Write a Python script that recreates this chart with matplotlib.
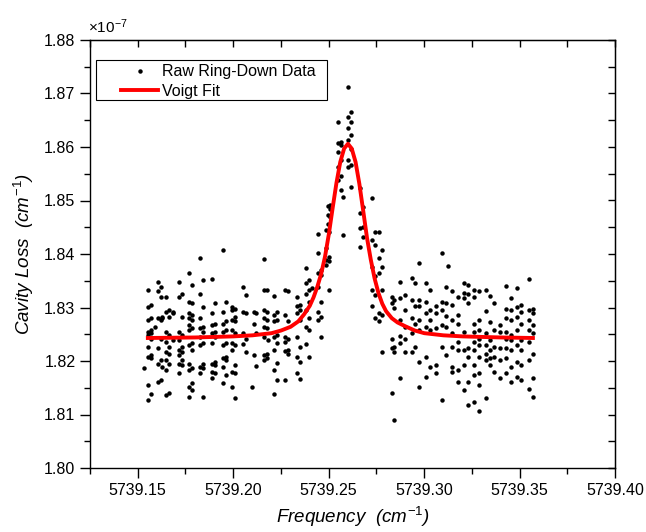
import matplotlib
matplotlib.use("Agg")
import matplotlib.pyplot as plt
from matplotlib.patches import Rectangle
from matplotlib.ticker import MultipleLocator, FormatStrFormatter

plt.rcParams["font.family"] = ["Liberation Sans", "DejaVu Sans"]
plt.rcParams["mathtext.fontset"] = "custom"
plt.rcParams["mathtext.rm"] = "Liberation Sans"
plt.rcParams["mathtext.it"] = "Liberation Sans:italic"

# ring-down points, grouped by frequency column (loss in units of 1e-7 cm^-1)
col_freq = [
    5739.1533, 5739.1553, 5739.1567, 5739.1590, 5739.1608, 5739.1620, 5739.1628,
    5739.1650, 5739.1666, 5739.1687, 5739.1715, 5739.1730, 5739.1768, 5739.1786,
    5739.1826, 5739.1840, 5739.1888, 5739.1903, 5739.1945, 5739.1960, 5739.1996,
    5739.2012,
    5739.2053, 5739.2068, 5739.2097, 5739.2108, 5739.2122, 5739.2160, 5739.2175,
    5739.2184, 5739.2212, 5739.2227, 5739.2272, 5739.2288, 5739.2333, 5739.2348,
    5739.2382, 5739.2398, 5739.2411, 5739.2442, 5739.2458, 5739.2446, 5739.2488,
    5739.2502, 5739.2496, 5739.2505,
    5739.2551, 5739.2566, 5739.2577, 5739.2603, 5739.2618, 5739.2666, 5739.2681,
    5739.2725, 5739.2741, 5739.2762, 5739.2782, 5739.2832, 5739.2841, 5739.2876,
    5739.2898, 5739.2935, 5739.2952, 5739.2972, 5739.3010, 5739.3033, 5739.3064,
    5739.3092, 5739.3116, 5739.3127, 5739.3147, 5739.3176, 5739.3207, 5739.3229,
    5739.3260, 5739.3290, 5739.3322, 5739.3343, 5739.3365, 5739.3395, 5739.3427,
    5739.3456, 5739.3488, 5739.3509, 5739.3548, 5739.3570,
]
col_loss = [
    [1.8186],
    [1.8333, 1.8301, 1.8277, 1.8255, 1.8249, 1.8227, 1.8208, 1.8155, 1.8128],
    [1.8305, 1.8280, 1.8258, 1.8252, 1.8242, 1.8211, 1.8205, 1.8138],
    [1.8264],
    [1.8348, 1.8330, 1.8280, 1.8224, 1.8195, 1.8161],
    [1.8339, 1.8320, 1.8277, 1.8242, 1.8202, 1.8164],
    [1.8283, 1.8280, 1.8189],
    [1.8320, 1.8292, 1.8255, 1.8236, 1.8217, 1.8202, 1.8183, 1.8136],
    [1.8295, 1.8283, 1.8249, 1.8227, 1.8214, 1.8195, 1.8140],
    [1.8292, 1.8289, 1.8239],
    [1.8348, 1.8320, 1.8255, 1.8239, 1.8220, 1.8211, 1.8195, 1.8177],
    [1.8326, 1.8283, 1.8249, 1.8227, 1.8217, 1.8202, 1.8192],
    [1.8364, 1.8311, 1.8289, 1.8280, 1.8267, 1.8258, 1.8230, 1.8195, 1.8183, 1.8152, 1.8133],
    [1.8342, 1.8308, 1.8286, 1.8277, 1.8261, 1.8233, 1.8220, 1.8186, 1.8158, 1.8146],
    [1.8392, 1.8326, 1.8280, 1.8261, 1.8245, 1.8230, 1.8189, 1.8177],
    [1.8351, 1.8301, 1.8264, 1.8255, 1.8233, 1.8195, 1.8186, 1.8133],
    [1.8354, 1.8289, 1.8267, 1.8252, 1.8233, 1.8195, 1.8180, 1.8168],
    [1.8308, 1.8270, 1.8255, 1.8245, 1.8199, 1.8192, 1.8177],
    [1.8407, 1.8292, 1.8270, 1.8255, 1.8230, 1.8205, 1.8189, 1.8158],
    [1.8311, 1.8274, 1.8258, 1.8233, 1.8208, 1.8202, 1.8174],
    [1.8301, 1.8295, 1.8277, 1.8258, 1.8233, 1.8220, 1.8180, 1.8152],
    [1.8298, 1.8283, 1.8274, 1.8252, 1.8230, 1.8192, 1.8177, 1.8130],
    [1.8339, 1.8292, 1.8252, 1.8232],
    [1.8323, 1.8290, 1.8242, 1.8217],
    [1.8152],
    [1.8292, 1.8270, 1.8211],
    [1.8289, 1.8252, 1.8191],
    [1.8390, 1.8333, 1.8295, 1.8280, 1.8264, 1.8245, 1.8211, 1.8202],
    [1.8332, 1.8292, 1.8277, 1.8261, 1.8214, 1.8205],
    [1.8239],
    [1.8321, 1.8286, 1.8274, 1.8245, 1.8221, 1.8183, 1.8138],
    [1.8292, 1.8277, 1.8249, 1.8233, 1.8196, 1.8165],
    [1.8333, 1.8286, 1.8245, 1.8236, 1.8218, 1.8165],
    [1.8330, 1.8274, 1.8242, 1.8221, 1.8214],
    [1.8320, 1.8302, 1.8289, 1.8245, 1.8208, 1.8177],
    [1.8305, 1.8295, 1.8277, 1.8227, 1.8199, 1.8166],
    [1.8373, 1.8345, 1.8326, 1.8295, 1.8264, 1.8232],
    [1.8351, 1.8333, 1.8311, 1.8280, 1.8258, 1.8208],
    [1.8336],
    [1.8401, 1.8364, 1.8339, 1.8292, 1.8277],
    [1.8370, 1.8361, 1.8311, 1.8283, 1.8245],
    [1.8437],
    [1.8411, 1.8389, 1.8379, 1.8445],
    [1.8395, 1.8386, 1.8333, 1.8442],
    [1.8489, 1.8473, 1.8457],
    [1.8492, 1.8485, 1.8470],
    [1.8647, 1.8607, 1.8591, 1.8563, 1.8538],
    [1.8610, 1.8604, 1.8576, 1.8545, 1.8520],
    [1.8507, 1.8435],
    [1.8712, 1.8657, 1.8635, 1.8613, 1.8576, 1.8563],
    [1.8666, 1.8647, 1.8622, 1.8597, 1.8566, 1.8526],
    [1.8523, 1.8476, 1.8448, 1.8414],
    [1.8488, 1.8451, 1.8432],
    [1.8504, 1.8426, 1.8376, 1.8333, 1.8302],
    [1.8442, 1.8417, 1.8358, 1.8323, 1.8280],
    [1.8442, 1.8392, 1.8364, 1.8289, 1.8274],
    [1.8407, 1.8376, 1.8333, 1.8286, 1.8217],
    [1.8320, 1.8308, 1.8242, 1.8224, 1.8140],
    [1.8314, 1.8299, 1.8227, 1.8217, 1.8090],
    [1.8348, 1.8317, 1.8277, 1.8246, 1.8233, 1.8168],
    [1.8323, 1.8295, 1.8264, 1.8242, 1.8217],
    [1.8355, 1.8314, 1.8280, 1.8252, 1.8217],
    [1.8345, 1.8302, 1.8270, 1.8227],
    [1.8383, 1.8314, 1.8302, 1.8277, 1.8258, 1.8199, 1.8152],
    [1.8345, 1.8311, 1.8289, 1.8264, 1.8208, 1.8171],
    [1.8333, 1.8295, 1.8277, 1.8258, 1.8189],
    [1.8302, 1.8289, 1.8261, 1.8193, 1.8177],
    [1.8402, 1.8311, 1.8295, 1.8267, 1.8227, 1.8128],
    [1.8339, 1.8309, 1.8284, 1.8264, 1.8211],
    [1.8378],
    [1.8330, 1.8305, 1.8277, 1.8252, 1.8227, 1.8189, 1.8180],
    [1.8320, 1.8286, 1.8270, 1.8236, 1.8220, 1.8183, 1.8161],
    [1.8346, 1.8328, 1.8317, 1.8255, 1.8220, 1.8192, 1.8146],
    [1.8342, 1.8326, 1.8308, 1.8224, 1.8208, 1.8161, 1.8118],
    [1.8333, 1.8320, 1.8270, 1.8255, 1.8236, 1.8220, 1.8192, 1.8174, 1.8124],
    [1.8330, 1.8277, 1.8258, 1.8242, 1.8230, 1.8208, 1.8177, 1.8155, 1.8106],
    [1.8333, 1.8294, 1.8252, 1.8230, 1.8214, 1.8202, 1.8130],
    [1.8321, 1.8272, 1.8239, 1.8220, 1.8205, 1.8192],
    [1.8309, 1.8258, 1.8227, 1.8208, 1.8180],
    [1.8267, 1.8255, 1.8224, 1.8202, 1.8168],
    [1.8340, 1.8298, 1.8280, 1.8255, 1.8242, 1.8224, 1.8205, 1.8177],
    [1.8317, 1.8295, 1.8277, 1.8249, 1.8239, 1.8220, 1.8189, 1.8161],
    [1.8336, 1.8301, 1.8283, 1.8258, 1.8230, 1.8199, 1.8171],
    [1.8305, 1.8292, 1.8270, 1.8239, 1.8220, 1.8192, 1.8164],
    [1.8354, 1.8295, 1.8277, 1.8258, 1.8236, 1.8202, 1.8147],
    [1.8298, 1.8289, 1.8267, 1.8252, 1.8214, 1.8168, 1.8132],
]

# Voigt fit curve
fit_freq = [
    5739.1553, 5739.1801, 5739.2001, 5739.2101, 5739.2201, 5739.2251, 5739.2301,
    5739.2341, 5739.2371, 5739.2401, 5739.2421, 5739.2441, 5739.2461, 5739.2481,
    5739.2501, 5739.2521, 5739.2541, 5739.2561, 5739.2581, 5739.2601, 5739.2621,
    5739.2641, 5739.2661, 5739.2681, 5739.2701, 5739.2721, 5739.2741, 5739.2761,
    5739.2781, 5739.2801, 5739.2831, 5739.2861, 5739.2901, 5739.2951, 5739.3001,
    5739.3101, 5739.3201, 5739.3401, 5739.3570,
]
fit_loss = [
    1.8243, 1.8244, 1.8246, 1.8248, 1.8252, 1.8257, 1.8264,
    1.8274, 1.8287, 1.8303, 1.8319, 1.8339, 1.8363, 1.8395,
    1.8437, 1.8486, 1.8533, 1.8572, 1.8597, 1.8606, 1.8597,
    1.8572, 1.8531, 1.8481, 1.8430, 1.8389, 1.8354, 1.8327,
    1.8307, 1.8293, 1.8280, 1.8272, 1.8265, 1.8257, 1.8252,
    1.8248, 1.8246, 1.8244, 1.8243,
]

freq = []
loss = []
for f, ys in zip(col_freq, col_loss):
    freq += [f] * len(ys)
    loss += ys

W, H = 646, 532
fig = plt.figure(figsize=(W / 100, H / 100), dpi=100)
ax = fig.add_axes([90 / W, 64 / H, 525 / W, 428 / H])

ax.plot(freq, loss, "o", ms=3.2, mew=0, color="black", ls="none",
        label="Raw Ring-Down Data")
ax.plot(fit_freq, fit_loss, color="red", lw=2.8, label="Voigt Fit")

ax.set_xlim(5739.125, 5739.40)
ax.set_ylim(1.80, 1.88)
ax.xaxis.set_major_locator(MultipleLocator(0.05))
ax.xaxis.set_minor_locator(MultipleLocator(0.025))
ax.yaxis.set_major_locator(MultipleLocator(0.01))
ax.yaxis.set_minor_locator(MultipleLocator(0.005))
ax.xaxis.set_major_formatter(FormatStrFormatter("%.2f"))
ax.yaxis.set_major_formatter(FormatStrFormatter("%.2f"))
ax.tick_params(which="major", direction="out", length=7, width=1, labelsize=11.5)
ax.tick_params(which="minor", direction="out", length=4, width=1)
for s in ax.spines.values():
    s.set_linewidth(1)

top = ax.secondary_xaxis("top")
top.xaxis.set_major_locator(MultipleLocator(0.05))
top.xaxis.set_minor_locator(MultipleLocator(0.025))
top.tick_params(which="both", direction="in", length=5, width=1, labeltop=False)
right = ax.secondary_yaxis("right")
right.yaxis.set_major_locator(MultipleLocator(0.01))
right.yaxis.set_minor_locator(MultipleLocator(0.005))
right.tick_params(which="both", direction="in", length=5, width=1, labelright=False)

ax.set_xlabel(r"Frequency  ($cm^{-1}$)", fontsize=13.5, style="italic", va="bottom")
ax.xaxis.set_label_coords(0.5, -0.143)
ax.set_ylabel(r"Cavity Loss  ($cm^{-1}$)", fontsize=13.5, style="italic", labelpad=6)
fig.text(88 / W, 1 - 27 / H, r"$\times$10$^{-7}$", fontsize=11, va="center")

# legend box drawn separately so the entries can sit inset like the original
fig.patches.append(Rectangle((96 / W, 1 - 100 / H), 231 / W, 40 / H,
                             transform=fig.transFigure, fill=False,
                             lw=0.8, edgecolor="black"))
ax.legend(loc="upper left", bbox_to_anchor=(118 / W, 1 - 61 / H),
          bbox_transform=fig.transFigure, borderaxespad=0, fontsize=11.5,
          frameon=False, handlelength=2.3, handletextpad=0.25, borderpad=0.2,
          labelspacing=0.3)

fig.savefig("out.png", dpi=100)
